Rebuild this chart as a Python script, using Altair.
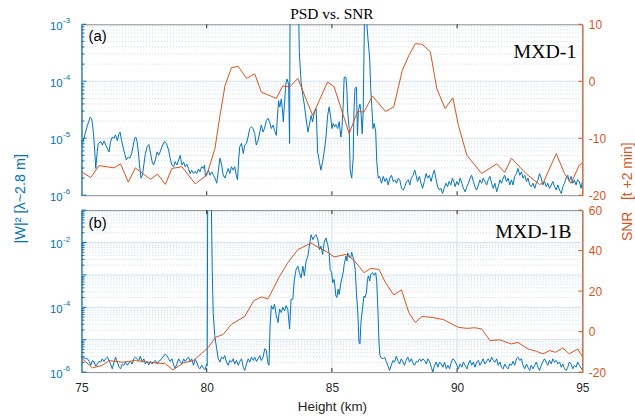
import altair as alt
import pandas as pd

BLUE = "#0072BD"
ORANGE = "#D95319"
DARK = "#262626"
SANS = "Liberation Sans"
SERIF = "Liberation Serif"
GRID_MAJOR = "#d3e3ef"
GRID_MINOR = "#b8d0e4"

W = 504
HA = 172
HB = 163

# ---------------- data (height km, log10 of |W|^2) ----------------
psd_a = [
    (75.0, -5.15), (75.11, -4.98), (75.24, -4.77), (75.35, -4.63), (75.41, -4.66), (75.48, -4.92),
    (75.53, -5.23), (75.57, -5.53), (75.63, -5.23), (75.67, -5.09), (75.77, -5.06), (75.83, -5.12),
    (75.9, -5.05), (76.0, -5.15), (76.1, -5.24), (76.16, -5.06), (76.23, -4.98), (76.3, -5.0),
    (76.36, -4.94), (76.43, -5.04), (76.5, -4.92), (76.54, -4.89), (76.6, -5.04), (76.69, -5.21),
    (76.79, -5.38), (76.87, -5.33), (76.93, -5.35), (77.0, -5.27), (77.06, -5.15), (77.12, -5.0),
    (77.17, -4.98), (77.22, -5.06), (77.27, -5.24), (77.33, -5.53), (77.38, -5.7), (77.43, -5.65),
    (77.49, -5.47), (77.55, -5.27), (77.62, -5.15), (77.69, -5.11), (77.75, -5.24), (77.82, -5.41),
    (77.88, -5.47), (77.95, -5.38), (78.02, -5.24), (78.08, -5.3), (78.15, -5.23), (78.21, -5.15),
    (78.31, -5.06), (78.39, -5.09), (78.48, -5.21), (78.54, -5.35), (78.61, -5.47), (78.68, -5.5),
    (78.74, -5.41), (78.81, -5.47), (78.88, -5.38), (78.94, -5.3), (79.01, -5.47), (79.08, -5.42),
    (79.14, -5.5), (79.21, -5.46), (79.27, -5.53), (79.34, -5.62), (79.4, -5.56), (79.47, -5.62),
    (79.54, -5.58), (79.6, -5.62), (79.67, -5.54), (79.73, -5.59), (79.8, -5.5), (79.87, -5.53),
    (79.91, -5.47), (79.95, -5.67), (80.0, -5.62), (80.07, -5.56), (80.13, -5.65), (80.2, -5.59),
    (80.27, -5.65), (80.33, -5.7), (80.4, -5.79), (80.46, -5.59), (80.53, -5.35), (80.6, -5.47),
    (80.66, -5.65), (80.73, -5.7), (80.79, -5.62), (80.86, -5.53), (80.92, -5.62), (80.99, -5.5),
    (81.06, -5.56), (81.12, -5.5), (81.19, -5.67), (81.23, -5.73), (81.28, -5.35), (81.32, -5.15),
    (81.39, -5.09), (81.46, -5.27), (81.52, -5.12), (81.59, -5.09), (81.65, -4.98), (81.72, -4.83),
    (81.79, -4.8), (81.85, -4.83), (81.92, -4.92), (81.98, -5.12), (82.05, -5.04), (82.12, -4.89),
    (82.18, -4.77), (82.25, -4.89), (82.31, -4.83), (82.38, -4.69), (82.45, -4.65), (82.51, -4.71),
    (82.58, -4.83), (82.65, -4.77), (82.71, -4.86), (82.78, -4.95), (82.82, -4.66), (82.87, -4.34),
    (82.92, -4.45), (82.98, -4.31), (83.02, -4.48), (83.06, -4.71), (83.11, -4.37), (83.16, -4.05),
    (83.21, -3.96), (83.27, -4.05), (83.31, -5.09), (83.34, -1.5), (83.62, -1.5), (83.7, -3.49),
    (83.77, -4.02), (83.84, -4.25), (83.9, -4.42), (83.97, -4.66), (84.04, -4.89), (84.1, -4.77),
    (84.17, -4.6), (84.23, -4.71), (84.3, -4.54), (84.37, -4.48), (84.43, -5.24), (84.5, -5.41),
    (84.56, -5.56), (84.63, -5.41), (84.69, -5.24), (84.76, -5.0), (84.83, -4.6), (84.89, -4.45),
    (84.96, -4.66), (85.0, -4.83), (85.05, -4.74), (85.11, -4.8), (85.16, -4.76), (85.23, -4.83),
    (85.29, -4.71), (85.36, -4.98), (85.4, -4.83), (85.45, -4.42), (85.49, -3.93), (85.56, -3.93),
    (85.6, -4.16), (85.63, -4.54), (85.69, -4.83), (85.73, -5.56), (85.79, -5.7), (85.85, -5.35),
    (85.88, -4.54), (85.92, -4.13), (85.98, -4.1), (86.02, -4.95), (86.06, -4.51), (86.12, -4.4),
    (86.16, -4.54), (86.21, -4.92), (86.25, -4.51), (86.3, -2.9), (86.38, -2.9), (86.44, -3.26),
    (86.51, -3.61), (86.55, -4.13), (86.59, -4.42), (86.64, -4.83), (86.69, -4.74), (86.75, -4.89),
    (86.79, -5.41), (86.85, -5.7), (86.9, -5.67), (86.98, -5.79), (87.05, -5.67), (87.12, -5.76),
    (87.18, -5.7), (87.25, -5.82), (87.31, -5.7), (87.38, -5.65), (87.45, -5.76), (87.51, -5.73),
    (87.58, -5.79), (87.65, -5.7), (87.71, -5.73), (87.78, -5.88), (87.85, -5.91), (87.91, -5.85),
    (87.98, -5.76), (88.05, -5.73), (88.11, -5.82), (88.17, -5.7), (88.24, -5.65), (88.31, -5.56),
    (88.36, -5.65), (88.42, -5.76), (88.49, -5.67), (88.56, -5.79), (88.62, -5.88), (88.69, -5.76),
    (88.76, -5.62), (88.82, -5.7), (88.89, -5.65), (88.96, -5.76), (89.02, -5.65), (89.09, -5.56),
    (89.15, -5.7), (89.22, -5.85), (89.29, -5.91), (89.35, -5.88), (89.42, -5.97), (89.48, -5.88),
    (89.55, -5.79), (89.62, -5.85), (89.68, -5.76), (89.75, -5.82), (89.81, -5.7), (89.89, -5.79),
    (89.92, -5.85), (89.99, -5.76), (90.05, -5.82), (90.12, -5.7), (90.19, -5.79), (90.25, -5.88),
    (90.32, -5.94), (90.39, -5.85), (90.45, -5.79), (90.52, -5.7), (90.58, -5.65), (90.65, -5.76),
    (90.71, -5.85), (90.78, -5.91), (90.85, -5.82), (90.91, -5.73), (90.98, -5.79), (91.04, -5.7),
    (91.11, -5.76), (91.18, -5.82), (91.24, -5.73), (91.31, -5.67), (91.38, -5.79), (91.44, -5.88),
    (91.51, -5.79), (91.58, -5.94), (91.64, -5.85), (91.71, -5.73), (91.77, -5.79), (91.84, -5.7),
    (91.9, -5.65), (91.97, -5.76), (92.04, -5.7), (92.1, -5.82), (92.17, -5.73), (92.23, -5.82),
    (92.3, -5.67), (92.37, -5.62), (92.43, -5.53), (92.5, -5.65), (92.57, -5.59), (92.63, -5.7),
    (92.7, -5.65), (92.77, -5.76), (92.83, -5.7), (92.9, -5.82), (92.96, -5.85), (93.03, -5.79),
    (93.1, -5.88), (93.16, -5.79), (93.23, -5.73), (93.29, -5.62), (93.36, -5.7), (93.42, -5.82),
    (93.49, -5.76), (93.56, -5.85), (93.62, -5.79), (93.69, -5.88), (93.76, -5.82), (93.82, -5.76),
    (93.89, -5.85), (93.96, -5.91), (94.02, -5.82), (94.09, -5.91), (94.16, -5.97), (94.22, -5.85),
    (94.29, -5.79), (94.35, -5.7), (94.42, -5.65), (94.48, -5.76), (94.55, -5.67), (94.62, -5.79),
    (94.68, -5.73), (94.75, -5.82), (94.81, -5.73), (94.88, -5.76), (94.95, -5.88), (95.0, -5.76),
]

# SNR (dB) for MXD-1
snr_a = [
    (75.0, -15.9), (75.37, -16.9), (75.70, -14.8), (76.30, -15.2), (76.56, -14.5), (76.87, -17.7),
    (77.15, -15.2), (77.75, -17.2), (78.04, -16.3), (78.35, -18.1), (78.61, -15.3), (79.01, -15.0),
    (79.54, -18.0), (80.0, -16.5), (80.33, -11.8), (80.53, -6.0), (80.73, -0.8), (80.99, 2.4),
    (81.26, 2.6), (81.59, 0.5), (81.92, 1.3), (82.18, -1.9), (82.78, -3.0), (83.04, -0.8),
    (83.31, -1.0), (83.64, 0.5), (84.23, -6.0), (84.83, -0.1), (85.09, -1.0), (85.69, -9.2),
    (86.02, -5.3), (86.28, -5.4), (86.62, -2.6), (87.14, -5.3), (87.47, -4.5), (87.81, 1.9),
    (88.07, 4.5), (88.33, 6.6), (88.60, 6.5), (88.93, 5.2), (89.19, -1.3), (89.52, -4.8),
    (89.83, -2.9), (90.05, -7.7), (90.39, -13.0), (90.98, -16.2), (91.58, -14.5), (91.90, -16.0),
    (92.17, -13.5), (92.77, -16.3), (93.29, -18.1), (93.43, -17.9), (93.96, -12.7), (94.29, -16.2),
    (94.55, -17.9), (94.88, -14.7), (95.0, -14.4),
]

psd_b = [
    (75.0, -5.54), (75.11, -5.57), (75.24, -5.59), (75.31, -5.67), (75.37, -5.79), (75.44, -5.64),
    (75.5, -5.69), (75.57, -5.82), (75.63, -5.75), (75.7, -5.67), (75.77, -5.69), (75.83, -5.59),
    (75.9, -5.67), (75.96, -5.59), (76.03, -5.54), (76.1, -5.64), (76.16, -5.75), (76.23, -5.9),
    (76.3, -5.69), (76.36, -5.54), (76.43, -5.69), (76.5, -5.85), (76.56, -5.9), (76.63, -5.75),
    (76.69, -5.79), (76.76, -5.69), (76.83, -5.79), (76.89, -5.72), (76.96, -5.67), (77.02, -5.75),
    (77.09, -5.59), (77.15, -5.54), (77.22, -5.59), (77.29, -5.64), (77.35, -5.51), (77.42, -5.69),
    (77.49, -5.59), (77.55, -5.75), (77.62, -5.67), (77.69, -5.78), (77.75, -5.67), (77.82, -5.75),
    (77.88, -5.69), (77.95, -5.64), (78.02, -5.75), (78.08, -5.67), (78.15, -5.64), (78.21, -5.57),
    (78.28, -5.51), (78.35, -5.44), (78.41, -5.49), (78.48, -5.59), (78.54, -5.67), (78.61, -5.59),
    (78.68, -5.78), (78.74, -5.88), (78.81, -5.75), (78.88, -5.59), (78.94, -5.67), (79.01, -5.75),
    (79.08, -5.59), (79.14, -5.67), (79.21, -5.59), (79.27, -5.54), (79.34, -5.67), (79.4, -5.59),
    (79.47, -5.79), (79.54, -5.61), (79.6, -5.69), (79.67, -5.85), (79.73, -5.9), (79.8, -5.79),
    (79.87, -5.88), (79.93, -5.93), (80.0, -5.75), (80.02, -5.8), (80.04, -0.5), (80.18, -0.5),
    (80.22, -2.8), (80.26, -4.16), (80.32, -4.87), (80.4, -5.28), (80.46, -5.59), (80.53, -5.69),
    (80.59, -5.54), (80.66, -5.59), (80.72, -5.49), (80.79, -5.69), (80.86, -5.79), (80.92, -5.64),
    (80.99, -5.69), (81.06, -5.59), (81.12, -5.75), (81.19, -5.64), (81.26, -5.79), (81.32, -5.67),
    (81.39, -5.59), (81.46, -5.85), (81.52, -5.95), (81.59, -5.75), (81.66, -5.59), (81.72, -5.69),
    (81.79, -5.54), (81.86, -5.64), (81.92, -5.54), (81.99, -5.67), (82.05, -5.59), (82.12, -5.49),
    (82.18, -5.64), (82.25, -5.54), (82.32, -5.28), (82.38, -5.33), (82.45, -5.75), (82.49, -5.79),
    (82.53, -4.57), (82.58, -3.95), (82.65, -4.06), (82.71, -3.9), (82.78, -4.26), (82.85, -4.47),
    (82.91, -4.06), (82.98, -4.16), (83.04, -4.0), (83.11, -4.11), (83.17, -3.95), (83.24, -4.06),
    (83.31, -4.67), (83.37, -3.75), (83.44, -3.75), (83.5, -3.14), (83.57, -2.83), (83.64, -2.73),
    (83.7, -2.93), (83.77, -3.09), (83.84, -2.73), (83.9, -3.03), (83.97, -2.57), (84.04, -2.42),
    (84.1, -2.11), (84.17, -1.76), (84.24, -1.91), (84.3, -1.81), (84.37, -1.76), (84.44, -1.91),
    (84.5, -2.22), (84.56, -2.11), (84.63, -2.37), (84.69, -2.01), (84.76, -1.86), (84.83, -2.06),
    (84.89, -2.32), (84.93, -2.83), (84.99, -2.93), (85.03, -3.24), (85.09, -3.14), (85.16, -3.65),
    (85.2, -3.7), (85.25, -3.44), (85.29, -3.6), (85.36, -3.24), (85.42, -3.03), (85.46, -2.88),
    (85.49, -2.68), (85.56, -2.42), (85.6, -2.57), (85.63, -2.32), (85.69, -2.42), (85.75, -2.47),
    (85.79, -2.3), (85.85, -2.47), (85.89, -2.63), (85.93, -2.83), (85.98, -3.55), (86.04, -4.26),
    (86.08, -5.08), (86.12, -5.13), (86.16, -4.47), (86.22, -4.06), (86.28, -3.65), (86.32, -3.7),
    (86.38, -3.55), (86.42, -3.14), (86.46, -3.03), (86.51, -3.19), (86.55, -2.98), (86.62, -2.93),
    (86.68, -3.01), (86.75, -2.93), (86.79, -3.19), (86.84, -4.16), (86.88, -5.08), (86.92, -5.49),
    (86.98, -5.57), (87.04, -5.59), (87.1, -5.54), (87.17, -5.67), (87.23, -5.79), (87.3, -5.95),
    (87.37, -5.79), (87.44, -5.64), (87.5, -5.69), (87.57, -5.51), (87.63, -5.64), (87.7, -5.75),
    (87.77, -5.59), (87.83, -5.67), (87.9, -5.79), (87.96, -5.64), (88.03, -5.54), (88.1, -5.69),
    (88.17, -5.59), (88.23, -5.71), (88.3, -5.79), (88.37, -5.67), (88.43, -5.69), (88.5, -5.59),
    (88.57, -5.67), (88.63, -5.59), (88.7, -5.64), (88.77, -5.75), (88.83, -5.59), (88.9, -5.67),
    (88.97, -5.85), (89.03, -6.0), (89.1, -5.79), (89.17, -5.69), (89.23, -5.85), (89.3, -5.69),
    (89.37, -5.75), (89.43, -5.85), (89.5, -5.69), (89.57, -5.9), (89.63, -5.79), (89.7, -5.9),
    (89.77, -5.69), (89.83, -5.59), (89.9, -5.64), (89.99, -5.79), (90.05, -5.9), (90.12, -5.75),
    (90.19, -5.85), (90.25, -5.69), (90.32, -5.79), (90.39, -5.9), (90.45, -5.75), (90.52, -5.64),
    (90.58, -5.79), (90.65, -5.69), (90.71, -5.85), (90.78, -5.69), (90.85, -5.64), (90.91, -5.79),
    (90.98, -5.69), (91.04, -5.59), (91.11, -5.75), (91.18, -5.67), (91.24, -5.59), (91.31, -5.69),
    (91.38, -5.54), (91.44, -5.64), (91.51, -5.69), (91.58, -5.59), (91.64, -5.79), (91.71, -5.69),
    (91.77, -5.85), (91.84, -5.9), (91.9, -5.75), (91.97, -5.85), (92.04, -5.9), (92.1, -5.75),
    (92.17, -5.79), (92.23, -5.67), (92.3, -5.79), (92.37, -5.59), (92.43, -5.54), (92.5, -5.64),
    (92.57, -5.59), (92.63, -5.79), (92.7, -5.9), (92.77, -5.75), (92.83, -5.85), (92.9, -5.95),
    (92.96, -5.79), (93.03, -5.9), (93.1, -5.79), (93.16, -5.69), (93.23, -5.85), (93.29, -5.95),
    (93.36, -5.79), (93.42, -5.69), (93.49, -5.59), (93.56, -5.69), (93.62, -5.79), (93.69, -5.64),
    (93.76, -5.75), (93.82, -5.59), (93.89, -5.69), (93.96, -5.64), (94.02, -5.75), (94.09, -5.69),
    (94.16, -5.85), (94.22, -5.75), (94.29, -5.9), (94.35, -5.95), (94.42, -5.85), (94.48, -5.69),
    (94.55, -5.75), (94.62, -5.9), (94.68, -5.79), (94.75, -5.85), (94.81, -5.69), (94.88, -5.79),
    (95.0, -5.93),
]

# SNR (dB) for MXD-1B
snr_b = [
    (75.0, -13.1), (75.44, -17.9), (75.83, -16.7), (76.10, -14.3), (76.63, -15.1), (77.15, -14.3),
    (77.69, -15.1), (78.35, -15.9), (78.65, -18.9), (79.08, -15.4), (79.47, -14.3), (79.80, -10.8),
    (80.07, -7.7), (80.36, -2.8), (80.66, -1.4), (80.99, 3.6), (81.52, 7.5), (81.88, 15.3),
    (82.18, 17.1), (82.45, 16.2), (82.90, 27.1), (83.24, 34.0), (83.64, 40.5), (84.17, 43.7),
    (84.50, 41.3), (84.76, 39.7), (85.09, 36.9), (85.56, 38.1), (85.88, 35.3), (86.28, 29.1),
    (86.55, 31.2), (86.88, 30.7), (87.14, 24.2), (87.47, 18.1), (87.78, 20.6), (88.07, 9.4),
    (88.33, 4.5), (88.60, 7.5), (89.0, 7.0), (89.46, 5.9), (89.72, 4.2), (90.05, 2.1),
    (90.39, 1.6), (90.71, 1.9), (90.98, 1.3), (91.31, -4.4), (91.71, -4.1), (92.17, -6.1),
    (92.43, -5.3), (92.83, -8.6), (93.16, -9.7), (93.43, -11.0), (93.69, -9.4), (93.93, -10.2),
    (94.22, -8.1), (94.48, -11.0), (94.81, -8.6), (95.0, -12.3),
]

x_ticks = [75, 80, 85, 90, 95]
psd_label_exps_a = [-6, -5, -4, -3]
psd_label_exps_b = [-6, -4, -2]
snr_ticks_a = [-20, -10, 0, 10]
snr_ticks_b = [-20, 0, 20, 40, 60]


def psd_frame(pairs):
    df = pd.DataFrame(pairs, columns=["h", "e"])
    df["psd"] = 10.0 ** df["e"]
    return df


def panel(psd_pairs, snr_pairs, dec_lo, dec_hi, label_exps, snr_dom, snr_ticks, H,
          tag, tag_y, name, name_x, name_y, bottom, left_title, right_title, vgrid, title_text=None):
    xs = alt.Scale(domain=[75, 95], nice=False, zero=False)
    ys = alt.Scale(type="log", domain=[10.0 ** dec_lo, 10.0 ** dec_hi], nice=False)
    ss = alt.Scale(domain=snr_dom, nice=False, zero=False)

    if bottom:
        xaxis = alt.Axis(values=x_ticks, format="d", labelFont=SANS, labelFontSize=12, labelColor=DARK,
                         labelFlush=False, ticks=False, domain=False, grid=False, labelPadding=11,
                         labelOverlap=False,
                         title="Height (km)", titleFont=SANS, titleFontSize=13.5, titleFontWeight="normal",
                         titleColor=DARK, titlePadding=6)
    else:
        xaxis = None

    def X(field):
        # identical axis definition on every layer that uses x, so they merge cleanly
        return alt.X(field, scale=xs, axis=xaxis)

    majors = [10.0 ** d for d in range(dec_lo, dec_hi + 1)]
    minors = [m * 10.0 ** d for d in range(dec_lo, dec_hi) for m in range(2, 10)]
    maj_df = pd.DataFrame({"v": majors})
    inner_df = pd.DataFrame({"v": majors[1:-1]})
    min_df = pd.DataFrame({"v": minors})
    lab_df = pd.DataFrame({"v": [10.0 ** e for e in label_exps],
                           "base": ["10"] * len(label_exps),
                           "exp": [str(e) for e in label_exps]})

    def Yn():
        return alt.Y("v:Q", scale=ys, axis=None)

    layers = []
    layers.append(alt.Chart(min_df).mark_rule(color=GRID_MINOR, strokeDash=[1, 2], strokeWidth=0.8)
                  .encode(y=Yn()))
    layers.append(alt.Chart(inner_df).mark_rule(color=GRID_MAJOR, strokeWidth=1).encode(y=Yn()))
    if vgrid:
        layers.append(alt.Chart(pd.DataFrame({"v": [80, 85, 90]}))
                      .mark_rule(color=GRID_MAJOR, strokeWidth=1)
                      .encode(x=X("v:Q")))

    if left_title:
        yaxis = alt.Axis(orient="left", labels=False, ticks=False, grid=False, domainColor=BLUE,
                         domainWidth=1, title=left_title, titleColor=BLUE, titleFont=SANS,
                         titleFontSize=14.5, titleFontWeight="normal", titleAngle=270,
                         titleAlign="center", titleBaseline="middle", titleX=-61, titleY=175)
    else:
        yaxis = alt.Axis(orient="left", labels=False, ticks=False, grid=False, domainColor=BLUE,
                         domainWidth=1, title=None)

    layers.append(alt.Chart(psd_frame(psd_pairs)).mark_line(color=BLUE, strokeWidth=1, clip=True).encode(
        x=X("h:Q"),
        y=alt.Y("psd:Q", scale=ys, axis=yaxis),
        order="h:Q",
    ))

    if right_title:
        saxis = alt.Axis(orient="right", values=snr_ticks, labelColor=ORANGE, labelFont=SANS,
                         labelFontSize=12, ticks=False, grid=False, domainColor=ORANGE, domainWidth=1,
                         labelPadding=6, labelOverlap=False,
                         labelExpr="(datum.value < 0 ? '-' : '') + abs(datum.value)",
                         title=right_title, titleColor=ORANGE, titleFont=SANS, titleFontSize=14,
                         titleFontWeight="normal", titleAngle=270, titleAlign="center",
                         titleBaseline="middle", titleX=45, titleY=168)
    else:
        saxis = alt.Axis(orient="right", values=snr_ticks, labelColor=ORANGE, labelFont=SANS,
                         labelFontSize=12, ticks=False, grid=False, domainColor=ORANGE, domainWidth=1,
                         labelPadding=6, labelOverlap=False,
                         labelExpr="(datum.value < 0 ? '-' : '') + abs(datum.value)",
                         title=None)
    layers.append(alt.Chart(pd.DataFrame(snr_pairs, columns=["h", "snr"])).mark_line(
        color=ORANGE, strokeWidth=1, clip=True).encode(
        x=X("h:Q"),
        y=alt.Y("snr:Q", scale=ss, axis=saxis),
        order="h:Q",
    ))
    layers.append(alt.Chart(pd.DataFrame({"v": snr_ticks})).mark_rule(color=ORANGE, strokeWidth=1).encode(
        y=alt.Y("v:Q", scale=ss, axis=None), x=alt.value(W - 4), x2=alt.value(W)))

    layers.append(alt.Chart(maj_df).mark_rule(color=BLUE, strokeWidth=1).encode(
        y=Yn(), x=alt.value(0), x2=alt.value(5)))
    layers.append(alt.Chart(min_df).mark_rule(color=BLUE, strokeWidth=1).encode(
        y=Yn(), x=alt.value(0), x2=alt.value(3)))
    layers.append(alt.Chart(lab_df).mark_text(align="right", baseline="middle", dy=3, fontSize=11.5,
                                              font=SANS, color=BLUE).encode(
        y=Yn(), x=alt.value(-19), text="base:N"))
    layers.append(alt.Chart(lab_df).mark_text(align="left", baseline="middle", dy=-3, fontSize=8,
                                              font=SANS, color=BLUE).encode(
        y=Yn(), x=alt.value(-18.5), text="exp:N"))
    xt = pd.DataFrame({"v": [80, 85, 90]})
    layers.append(alt.Chart(xt).mark_rule(color=DARK, strokeWidth=1).encode(
        x=X("v:Q"), y=alt.value(0), y2=alt.value(4)))
    layers.append(alt.Chart(xt).mark_rule(color=DARK, strokeWidth=1).encode(
        x=X("v:Q"), y=alt.value(H - 4), y2=alt.value(H)))
    layers.append(alt.Chart(pd.DataFrame({"t": [tag]})).mark_text(
        align="left", baseline="alphabetic", fontSize=15, font=SANS, color="#000000").encode(
        x=alt.value(7), y=alt.value(tag_y), text="t:N"))
    layers.append(alt.Chart(pd.DataFrame({"t": [name]})).mark_text(
        align="right", baseline="alphabetic", fontSize=20, font=SERIF, color="#000000").encode(
        x=alt.value(name_x), y=alt.value(name_y), text="t:N"))
    if title_text:
        layers.append(alt.Chart(pd.DataFrame({"t": [title_text]})).mark_text(
            align="center", baseline="alphabetic", fontSize=15.5, font=SERIF, color="#000000").encode(
            x=alt.value(W / 2), y=alt.value(-5.5), text="t:N"))

    return alt.layer(*layers).resolve_scale(y="independent").properties(width=W, height=H)


pa = panel(psd_a, snr_a, -6, -3, psd_label_exps_a, [-20, 10], snr_ticks_a, HA,
           "(a)", 17, "MXD-1", 498, 34, False,
           "|W|\u00b2 [\u03bb~2.8 m]", "SNR\u00a0\u00a0\u00a0[t +2 min]", False, title_text="PSD vs. SNR")
pb = panel(psd_b, snr_b, -6, -1, psd_label_exps_b, [-20, 60], snr_ticks_b, HB,
           "(b)", 18, "MXD-1B", 493, 28, True, None, None, True)

chart = alt.vconcat(pa, pb, spacing=15, bounds="flush").properties(
    padding={"left": 12, "top": 5, "right": 0, "bottom": 42}
).configure_view(stroke="#8c8c8c", strokeWidth=1)

chart.save("out.html", embed_options={"renderer": "svg", "actions": False})
